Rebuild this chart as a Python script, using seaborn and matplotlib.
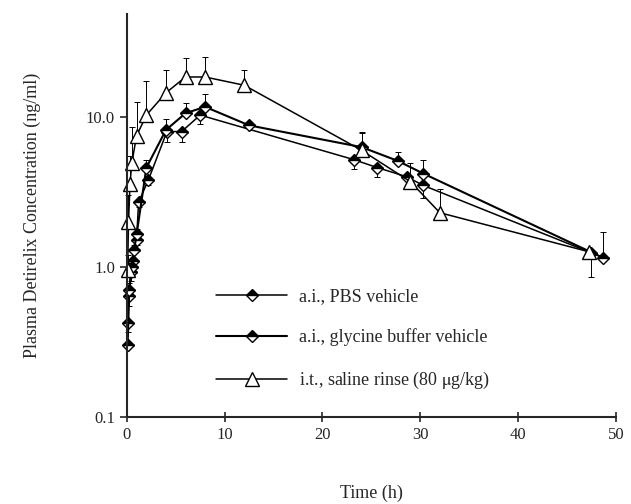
import matplotlib
matplotlib.use('Agg')
import matplotlib.pyplot as plt
import seaborn as sns
import numpy as np

# a.i., glycine buffer vehicle (upper error bars)
t_gly = [0.08, 0.25, 0.5, 0.75, 1.0, 2.0, 4.0, 6.0, 8.0, 12.5, 24.0, 27.7, 30.3, 48.7]
c_gly = [0.30, 0.70, 1.00, 1.30, 1.65, 4.6, 8.2, 10.6, 11.7, 8.8, 6.3, 5.1, 4.2, 1.15]
hi_gly = [0.30, 0.78, 1.10, 1.40, 1.80, 5.2, 9.7, 12.4, 14.2, 8.8, 7.8, 5.8, 5.2, 1.71]

# a.i., PBS vehicle (lower error bars)
t_pbs = [0.1, 0.2, 0.4, 0.6, 1.0, 1.2, 2.2, 4.1, 5.6, 7.5, 23.2, 25.6, 28.6, 30.3, 47.5]
c_pbs = [0.42, 0.64, 0.93, 1.10, 1.52, 2.7, 3.8, 8.0, 8.0, 10.3, 5.2, 4.6, 4.0, 3.5, 1.24]
lo_pbs = [0.37, 0.55, 0.80, 1.00, 1.40, 2.5, 3.5, 6.8, 6.8, 9.0, 4.5, 4.0, 3.4, 2.9, 0.85]

# i.t., saline rinse (upper error bars)
t_sal = [0.08, 0.17, 0.33, 0.5, 1.0, 2.0, 4.0, 6.0, 8.0, 12.0, 24.0, 29.0, 32.0, 47.3]
c_sal = [0.95, 2.0, 3.6, 4.9, 7.5, 10.3, 14.5, 18.5, 18.5, 16.3, 6.0, 3.7, 2.3, 1.26]
hi_sal = [1.2, 3.0, 5.5, 8.6, 12.6, 17.4, 20.6, 24.7, 25.0, 20.6, 7.9, 4.9, 3.3, 1.26]

sns.set_style('ticks')
plt.rcParams['font.family'] = ['Liberation Serif', 'DejaVu Serif']
plt.rcParams['mathtext.fontset'] = 'stix'

fig = plt.figure(figsize=(6.31, 5.04), dpi=100)
ax = fig.add_axes([0.201, 0.173, 0.775, 0.799])

# error bars first so markers sit on top
eb = dict(fmt='none', ecolor='black', elinewidth=0.7, capsize=2.5, capthick=0.7, clip_on=False)
ax.errorbar(t_sal, c_sal, yerr=[np.zeros(len(c_sal)), np.array(hi_sal) - np.array(c_sal)], **eb)
ax.errorbar(t_gly, c_gly, yerr=[np.zeros(len(c_gly)), np.array(hi_gly) - np.array(c_gly)], **eb)
ax.errorbar(t_pbs, c_pbs, yerr=[np.array(c_pbs) - np.array(lo_pbs), np.zeros(len(c_pbs))], **eb)

dia = dict(marker='D', markersize=6.5, markeredgecolor='black', markerfacecolor='black',
           fillstyle='top', markerfacecoloralt='white', markeredgewidth=1.0, color='black', clip_on=False)
sns.lineplot(x=t_pbs, y=c_pbs, ax=ax, label='a.i., PBS vehicle', linewidth=1.1, **dia)
sns.lineplot(x=t_gly, y=c_gly, ax=ax, label='a.i., glycine buffer vehicle', linewidth=1.5, **dia)
sns.lineplot(x=t_sal, y=c_sal, ax=ax, label='i.t., saline rinse (80 $\\mathrm{\\mu}$g/kg)',
             color='black', linewidth=1.1, marker='^', markersize=10, markerfacecolor='white',
             markeredgecolor='black', markeredgewidth=1.0, clip_on=False)

ax.set_yscale('log')
ax.set_xlim(0, 50)
ax.set_ylim(0.1, 48.6)
ax.set_xticks([0, 10, 20, 30, 40, 50])
ax.set_yticks([0.1, 1.0, 10.0])
ax.set_yticklabels(['0.1', '1.0', '10.0'])
ax.yaxis.set_minor_locator(matplotlib.ticker.NullLocator())
ax.tick_params(axis='x', direction='inout', length=7, width=1.2, labelsize=12, pad=4)
ax.tick_params(axis='y', direction='out', length=5, width=1.2, labelsize=12)
for s in ['top', 'right']:
    ax.spines[s].set_visible(False)
for s in ['left', 'bottom']:
    ax.spines[s].set_linewidth(1.5)

ax.set_xlabel('Time (h)', fontsize=13, labelpad=30)
ax.set_ylabel('Plasma Detirelix Concentration (ng/ml)', fontsize=13, labelpad=32)

leg = ax.legend(loc='upper left', bbox_to_anchor=(0.15, 0.36), frameon=False, fontsize=13,
                handlelength=3.9, labelspacing=1.3, handletextpad=0.7)

fig.savefig('out.png', dpi=100)
